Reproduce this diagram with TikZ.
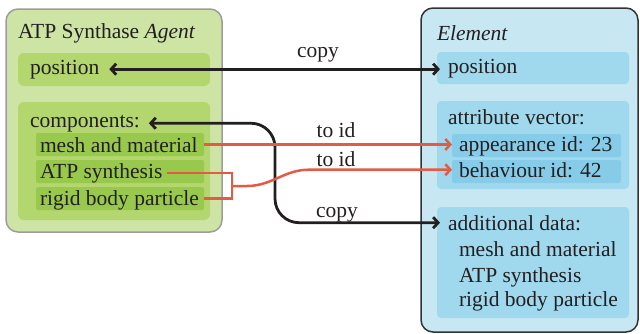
\documentclass[tikz,border=0pt]{standalone}
\usepackage{fontspec}
\setmainfont{Liberation Serif}
\usetikzlibrary{arrows.meta,calc}
\definecolor{gOuter}{HTML}{CDE4A5}
\definecolor{gInner}{HTML}{B3D66F}
\definecolor{gSub}{HTML}{99C94C}
\definecolor{gBorder}{HTML}{9C9C9C}
\definecolor{bOuter}{HTML}{C7E8F2}
\definecolor{bInner}{HTML}{A0D9EE}
\definecolor{bSub}{HTML}{86CCE9}
\definecolor{bBorder}{HTML}{333333}
\definecolor{txt}{HTML}{231F20}
\definecolor{redline}{HTML}{E35B43}
\begin{document}
\begin{tikzpicture}[x=1pt,y=-1pt,
  font=\fontsize{21.5}{24}\selectfont, text=txt,
  box/.style={anchor=north west, inner sep=0, outer sep=0},
  outerL/.style={box, fill=gOuter, draw=gBorder, line width=1.5pt, rounded corners=12pt},
  outerR/.style={box, fill=bOuter, draw=bBorder, line width=1.5pt, rounded corners=12pt},
  innerL/.style={box, fill=gInner, rounded corners=6pt},
  innerR/.style={box, fill=bInner, rounded corners=4pt},
  subL/.style={box, fill=gSub, rounded corners=2pt},
  subR/.style={box, fill=bSub, rounded corners=2pt},
  lbl/.style={anchor=base west, inner sep=0, outer sep=0},
  clbl/.style={anchor=base, inner sep=0},
  blk/.style={draw=txt, line width=2.8pt, {Straight Barb[length=5pt,width=11pt]}-{Straight Barb[length=5pt,width=11pt]}},
  red/.style={draw=redline, line width=2.5pt},
  redarr/.style={red, -{Straight Barb[length=5pt,width=11pt]}}
]
\useasboundingbox (0,0) rectangle (640,333);

% left agent
\node[outerL, minimum width=216pt, minimum height=223pt] (agent) at (6,9) {};
\node[innerL, minimum width=192pt, minimum height=33pt] (lpos) at (18,53) {};
\node[innerL, minimum width=192pt, minimum height=118pt] (lcomp) at (18,102) {};
\node[subL, minimum width=168pt, minimum height=23pt] (lmesh) at (36,133) {};
\node[subL, minimum width=168pt, minimum height=23pt] (latp) at (36,160) {};
\node[subL, minimum width=168pt, minimum height=23pt] (lrigid) at (36,187) {};

\node[lbl] (agentT) at (18,38) {ATP Synthase \textit{Agent}};
\node[lbl] (lposT) at (30,74) {position};
\node[lbl] (compT) at (30,127) {components:};
\node[lbl] (meshT) at (40,152) {mesh and material};
\node[lbl] (atpT) at (40,178) {ATP synthesis};
\node[lbl] (rigidT) at (40,205) {rigid body particle};

% right element
\node[outerR, minimum width=217pt, minimum height=324pt] (elem) at (421,8) {};
\node[innerR, minimum width=192pt, minimum height=32pt] (rpos) at (437,52) {};
\node[innerR, minimum width=192pt, minimum height=88pt] (rattr) at (437,101) {};
\node[subR, minimum width=169pt, minimum height=23pt] (rapp) at (452,134) {};
\node[subR, minimum width=169pt, minimum height=23pt] (rbeh) at (452,160) {};
\node[innerR, minimum width=192pt, minimum height=111pt] (radd) at (437,207) {};

\node[lbl] (elemT) at (437,40) {\textit{Element}};
\node[lbl] (rposT) at (448,73) {position};
\node[lbl] (attrT) at (448,124) {attribute vector:};
\node[lbl] (appT) at (459,151) {appearance id: 23};
\node[lbl] (behT) at (459,177) {behaviour id: 42};
\node[lbl] (addT) at (448,230) {additional data:};
\node[lbl] (add1T) at (459,256) {mesh and material};
\node[lbl] (add2T) at (459,282) {ATP synthesis};
\node[lbl] (add3T) at (459,306) {rigid body particle};

% connectors
\coordinate (bend) at (275,175);
\coordinate (brk) at (232,186);
\coordinate (posEnd) at ($(rposT.west |- lposT.east)+(-8,0)$);
\coordinate (meshEnd) at ($(appT.west |- lmesh.east)+(-7,0)$);
\draw[blk] ([xshift=10pt]lposT.east) -- (posEnd);
\draw[blk, rounded corners=24pt] ([xshift=9pt]compT.east) -| (bend) |- ([xshift=-8pt]addT.west);
\draw[redarr] (lmesh.east) -- (meshEnd);
\draw[red] ([xshift=5pt]atpT.east) -| (brk) |- (lrigid.east);
\draw[redarr] (brk) -- ++(15,0) to[out=0,in=180] ([xshift=-150pt]behT.west) -- ([xshift=-7pt]behT.west);

\node[clbl] (c1) at (318,57) {copy};
\node[clbl] (t1) at (336,137) {to id};
\node[clbl] (t2) at (336,166) {to id};
\node[clbl] (c2) at (337,217) {copy};
\end{tikzpicture}
\end{document}
